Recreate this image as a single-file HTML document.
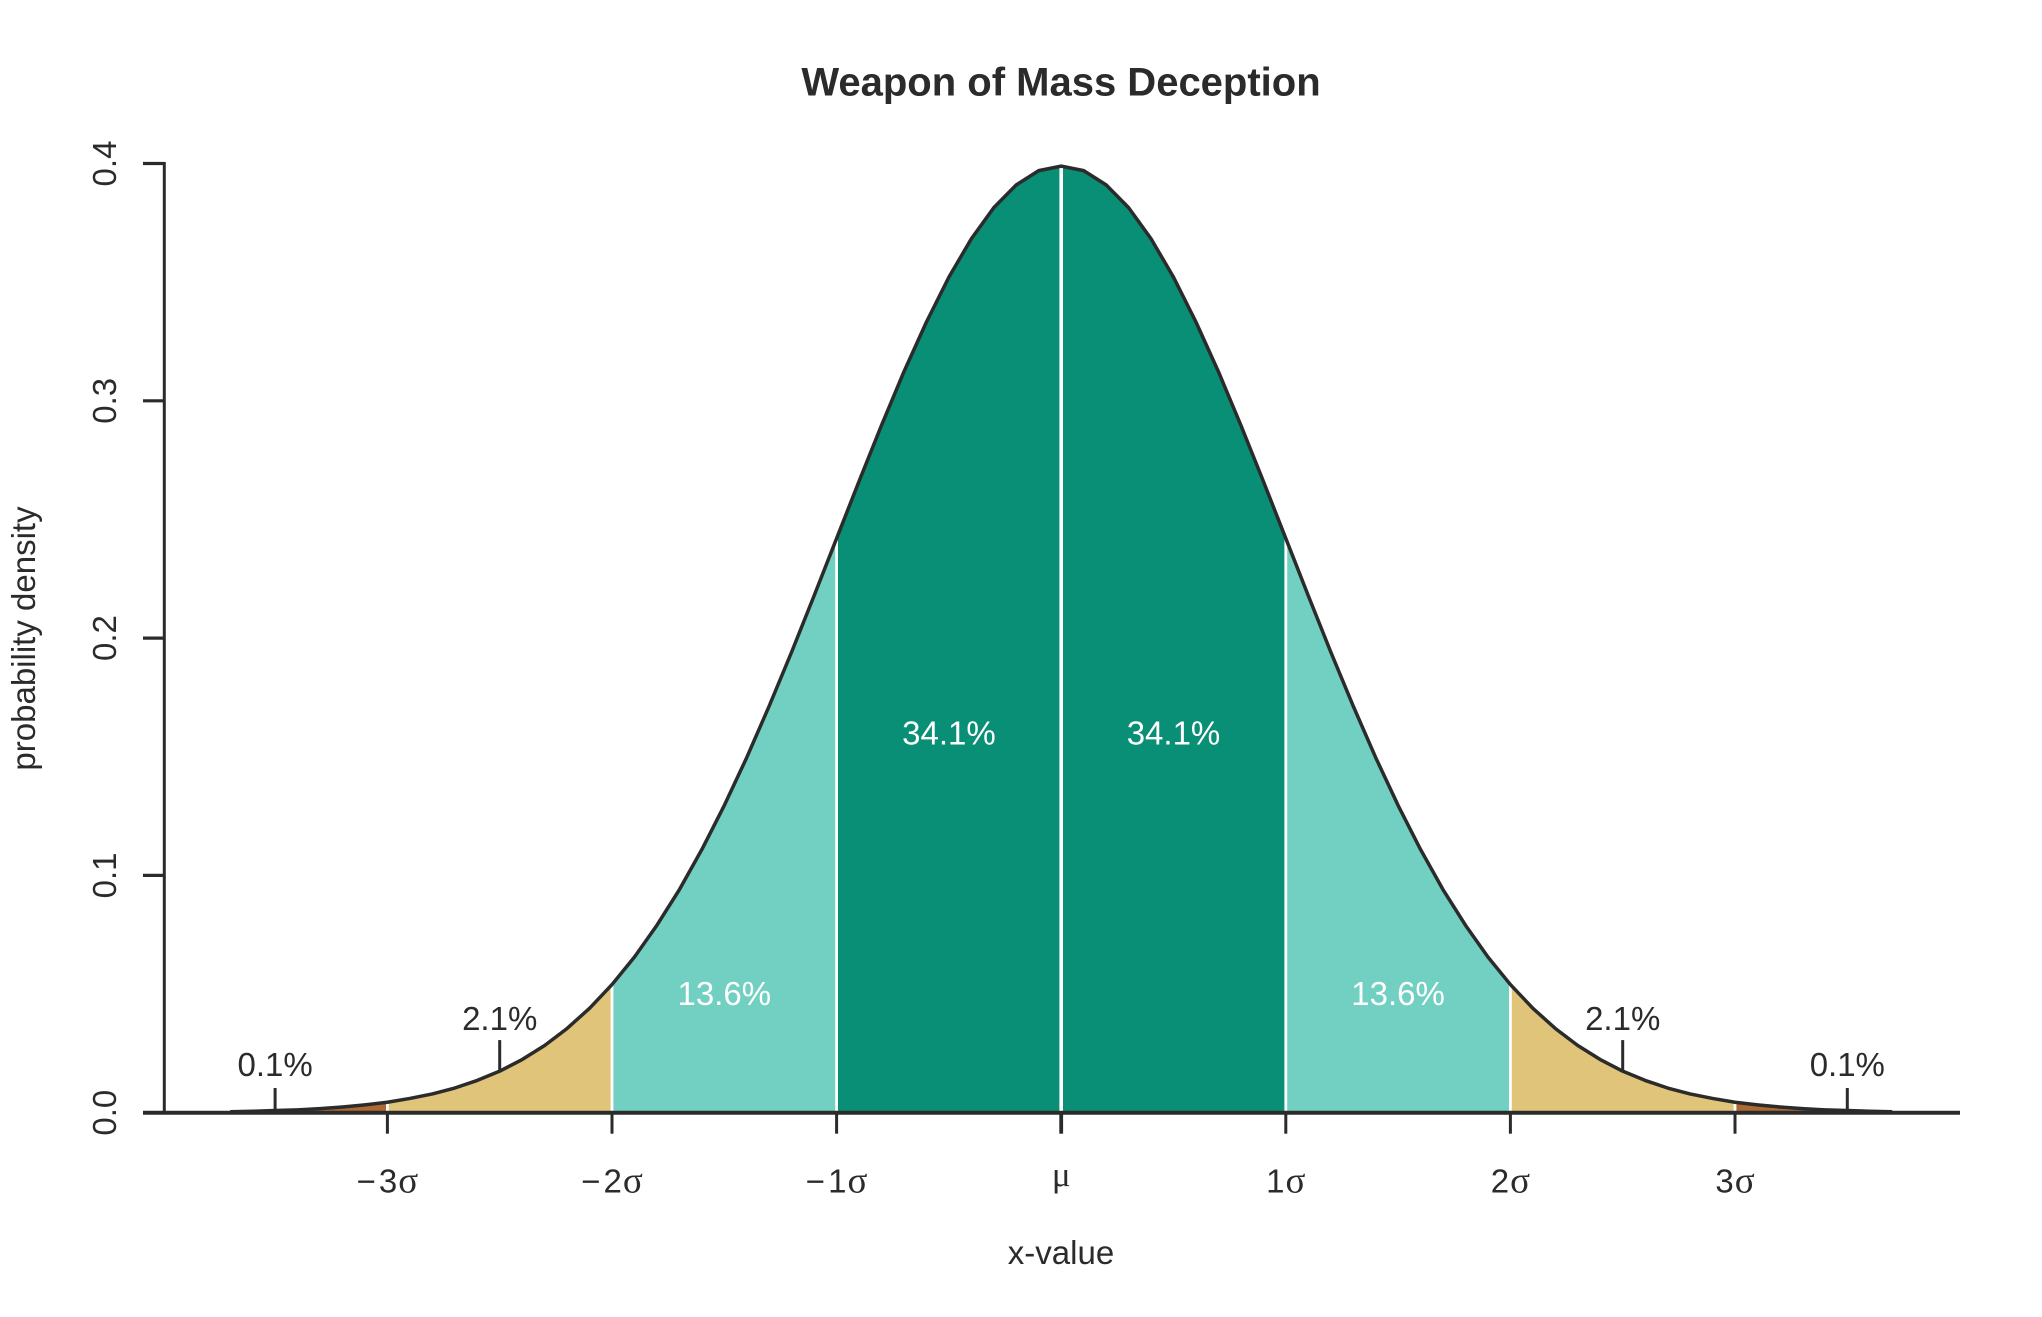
<!DOCTYPE html>
<html lang="en">
<head>
<meta charset="utf-8">
<title>Weapon of Mass Deception</title>
<style>
html,body{margin:0;padding:0;background:#fff;width:2042px;height:1317px;overflow:hidden}
svg{display:block}
text{font-family:"Liberation Sans",Arial,sans-serif;fill:#2b2b2b;font-size:33px}
.sym{font-family:"Liberation Serif",serif;font-size:37px}
.mu{font-family:"Liberation Serif",serif;font-size:35px}
</style>
</head>
<body>
<svg id="chart" xmlns="http://www.w3.org/2000/svg" width="2042" height="1317" viewBox="0 0 2042 1317">
  <rect width="2042" height="1317" fill="#fff"/>
  <g id="fills"></g>
  <g id="dividers"></g>
  <path id="curve" fill="none" stroke="#2b2b2b" stroke-width="3.5" stroke-linejoin="round"/>
  <g id="annotations"></g>
  <g id="bandLabels"></g>
  <g id="xAxis"></g>
  <g id="yAxis"></g>
  <text x="1061" y="95.5" text-anchor="middle" font-weight="700" style="font-size:40px;font-weight:700">Weapon of Mass Deception</text>
  <text x="1061" y="1264" text-anchor="middle">x-value</text>
  <text transform="translate(35 638.5) rotate(-90)" text-anchor="middle">probability density</text>
</svg>
<script>
const sigmaPositions = [-3.7,-3.6,-3.5,-3.4,-3.3,-3.2,-3.1,-3.0,-2.9,-2.8,-2.7,-2.6,-2.5,-2.4,-2.3,-2.2,-2.1,-2.0,-1.9,-1.8,-1.7,-1.6,-1.5,-1.4,-1.3,-1.2,-1.1,-1.0,-0.9,-0.8,-0.7,-0.6,-0.5,-0.4,-0.3,-0.2,-0.1,0,0.1,0.2,0.3,0.4,0.5,0.6,0.7,0.8,0.9,1.0,1.1,1.2,1.3,1.4,1.5,1.6,1.7,1.8,1.9,2.0,2.1,2.2,2.3,2.4,2.5,2.6,2.7,2.8,2.9,3.0,3.1,3.2,3.3,3.4,3.5,3.6,3.7];
const densityValues = [0.0004,0.0006,0.0009,0.0012,0.0017,0.0024,0.0033,0.0044,0.0060,0.0079,0.0104,0.0136,0.0175,0.0224,0.0283,0.0355,0.0440,0.0540,0.0656,0.0790,0.0940,0.1109,0.1295,0.1497,0.1714,0.1942,0.2179,0.2420,0.2661,0.2897,0.3123,0.3332,0.3521,0.3683,0.3814,0.3910,0.3970,0.3989,0.3970,0.3910,0.3814,0.3683,0.3521,0.3332,0.3123,0.2897,0.2661,0.2420,0.2179,0.1942,0.1714,0.1497,0.1295,0.1109,0.0940,0.0790,0.0656,0.0540,0.0440,0.0355,0.0283,0.0224,0.0175,0.0136,0.0104,0.0079,0.0060,0.0044,0.0033,0.0024,0.0017,0.0012,0.0009,0.0006,0.0004];

const bandStarts = [-3.7,-3.0,-2.0,-1.0,0,1.0,2.0,3.0];
const bandEnds = [-3.0,-2.0,-1.0,0,1.0,2.0,3.0,3.7];
const bandColors = ['#ae6a33','#dfc479','#71d0c1','#098f76','#098f76','#71d0c1','#dfc479','#ae6a33'];

const dividerPositions = [-3,-2,-1,0,1,2,3];

const xTickValues = [-3,-2,-1,0,1,2,3];
const xTickMinus = ['\u2212','\u2212','\u2212','','','',''];
const xTickNumbers = ['3','2','1','','1','2','3'];
const xTickSymbols = ['\u03c3','\u03c3','\u03c3','\u03bc','\u03c3','\u03c3','\u03c3'];

const yTickValues = [0,0.1,0.2,0.3,0.4];
const yTickLabels = ['0.0','0.1','0.2','0.3','0.4'];

const bandLabelX = [-1.5,-0.5,0.5,1.5];
const bandLabelY = [0.0454,0.1552,0.1552,0.0454];
const bandLabelText = ['13.6%','34.1%','34.1%','13.6%'];

const tailX = [-3.5,-2.5,2.5,3.5];
const tailTickTop = [0.0104,0.0306,0.0306,0.0104];
const tailTickBottom = [0.0009,0.0175,0.0175,0.0009];
const tailLabelY = [0.0155,0.0349,0.0349,0.0155];
const tailLabelText = ['0.1%','2.1%','2.1%','0.1%'];

const NS = 'http://www.w3.org/2000/svg';
const xScale = s => 1061.2 + s * 224.6;
const yScale = v => 1112.7 - v * 2373;

function make(tag, attrs, parent) {
  const el = document.createElementNS(NS, tag);
  for (const k in attrs) el.setAttribute(k, attrs[k]);
  parent.appendChild(el);
  return el;
}

const linePoints = sigmaPositions.map((s, i) => xScale(s).toFixed(2) + ',' + yScale(densityValues[i]).toFixed(2));
document.getElementById('curve').setAttribute('d', 'M' + linePoints.join('L'));

const fills = document.getElementById('fills');
bandStarts.forEach((start, b) => {
  const end = bandEnds[b];
  const pts = [[xScale(start), yScale(0)]];
  sigmaPositions.forEach((s, i) => {
    if (s >= start - 1e-6 && s <= end + 1e-6) pts.push([xScale(s), yScale(densityValues[i])]);
  });
  pts.push([xScale(end), yScale(0)]);
  const el = make('polygon', {points: pts.map(p => p[0].toFixed(2) + ',' + p[1].toFixed(2)).join(' '), fill: bandColors[b]}, fills);
  
  
});

const dividers = document.getElementById('dividers');
dividerPositions.forEach(s => {
  const idx = sigmaPositions.findIndex(p => Math.abs(p - s) < 1e-6);
  const el = make('line', {x1: xScale(s), x2: xScale(s), y1: yScale(0), y2: yScale(densityValues[idx]), stroke: '#fff', 'stroke-width': s === 0 ? 3.6 : 2.8}, dividers);
  
  
});

const annotations = document.getElementById('annotations');
tailX.forEach((s, i) => {
  const tick = make('line', {x1: xScale(s), x2: xScale(s), y1: yScale(tailTickTop[i]), y2: yScale(tailTickBottom[i]), stroke: '#2b2b2b', 'stroke-width': 3}, annotations);
  
  
  const label = make('text', {x: xScale(s), y: yScale(tailLabelY[i]), 'text-anchor': 'middle'}, annotations);
  label.textContent = tailLabelText[i];
  
  
});

const bandLabels = document.getElementById('bandLabels');
bandLabelX.forEach((s, i) => {
  const label = make('text', {x: xScale(s), y: yScale(bandLabelY[i]), 'text-anchor': 'middle', style: 'fill:#fff'}, bandLabels);
  label.textContent = bandLabelText[i];
  
  
});

const xAxis = document.getElementById('xAxis');
const xLine = make('line', {x1: 143, x2: 1960, y1: yScale(0), y2: yScale(0), stroke: '#2b2b2b', 'stroke-width': 4}, xAxis);


xTickValues.forEach((s, i) => {
  const tick = make('line', {x1: xScale(s), x2: xScale(s), y1: yScale(0), y2: yScale(0) + 21, stroke: '#2b2b2b', 'stroke-width': s === 0 ? 3.8 : 3}, xAxis);
  
  
  const label = make('text', {x: xScale(s), y: 1192.7, 'text-anchor': 'middle'}, xAxis);
  
  
  if (xTickMinus[i]) {
    const minus = make('tspan', {}, label);
    minus.textContent = xTickMinus[i];
  }
  if (xTickNumbers[i]) {
    const num = make('tspan', {dx: xTickMinus[i] ? 3 : 0}, label);
    num.textContent = xTickNumbers[i];
    const sym = make('tspan', {class: 'sym', dx: 1}, label);
    sym.textContent = xTickSymbols[i];
  } else {
    label.setAttribute('y', 1186);
    const sym = make('tspan', {class: 'mu'}, label);
    sym.textContent = xTickSymbols[i];
  }
});

const yAxis = document.getElementById('yAxis');
const yLine = make('line', {x1: 164.3, x2: 164.3, y1: yScale(0.4) - 1.5, y2: yScale(0), stroke: '#2b2b2b', 'stroke-width': 3}, yAxis);


yTickValues.forEach((v, i) => {
  const tick = make('line', {x1: 143, x2: 164.3, y1: yScale(v), y2: yScale(v), stroke: '#2b2b2b', 'stroke-width': 3.2}, yAxis);
  
  
  const label = make('text', {transform: 'translate(116 ' + yScale(v) + ') rotate(-90)', 'text-anchor': 'middle'}, yAxis);
  label.textContent = yTickLabels[i];
  
  
});
</script>
</body>
</html>
